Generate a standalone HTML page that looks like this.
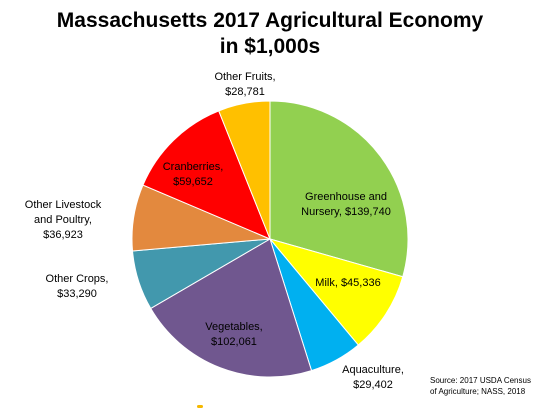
<!DOCTYPE html>
<html><head><meta charset="utf-8"><style>
html,body{margin:0;padding:0;background:#fff;}
svg{display:block;font-family:"Liberation Sans",sans-serif;}
</style></head><body>
<svg id="chart" width="554" height="415" viewBox="0 0 554 415">
<text x="270" y="27" text-anchor="middle" font-size="21" font-weight="bold" fill="#000">Massachusetts 2017 Agricultural Economy</text>
<text x="270" y="53" text-anchor="middle" font-size="21" font-weight="bold" fill="#000">in $1,000s</text>
<g id="slices"></g>
<g id="labels" font-size="11" fill="#000"></g>
<text x="430" y="383" font-size="8" fill="#000">Source:  2017 USDA Census</text>
<text x="430" y="394" font-size="8" fill="#000">of Agriculture;  NASS, 2018</text>
<rect x="197" y="405" width="6" height="3" rx="1.5" fill="#f5b800"/>
</svg>
<script>
const categories = ["Greenhouse and Nursery","Milk","Aquaculture","Vegetables","Other Crops","Other Livestock and Poultry","Cranberries","Other Fruits"];
const values = [139740,45336,29402,102061,33290,36923,59652,28781];
const valueLabels = ["$139,740","$45,336","$29,402","$102,061","$33,290","$36,923","$59,652","$28,781"];
const colors = ["#92d050","#ffff00","#00b0f0","#70578f","#4298ad","#e3893e","#ff0000","#ffc000"];
const labelLines = [
  ["Greenhouse and","Nursery,  $139,740"],
  ["Milk,  $45,336"],
  ["Aquaculture,","$29,402"],
  ["Vegetables,","$102,061"],
  ["Other Crops,","$33,290"],
  ["Other Livestock","and Poultry,","$36,923"],
  ["Cranberries,","$59,652"],
  ["Other Fruits,","$28,781"]
];
const labelPos = [[346,200],[348,286],[373,373],[234,330],[77,282],[63,208],[193,170],[245,80]];
const cx=270, cy=239, r=138;
const NS="http://www.w3.org/2000/svg";
const total=values.reduce((a,b)=>a+b,0);
function angleToXY(a){return [cx+r*Math.sin(a), cy-r*Math.cos(a)];}
let acc=0;
const gS=document.getElementById('slices'), gL=document.getElementById('labels');
values.forEach((v,i)=>{
  const a0=acc/total*2*Math.PI; acc+=v; const a1=acc/total*2*Math.PI;
  const [x0,y0]=angleToXY(a0),[x1,y1]=angleToXY(a1);
  const p=document.createElementNS(NS,'path');
  p.setAttribute('d',`M${cx},${cy} L${x0},${y0} A${r},${r} 0 ${a1-a0>Math.PI?1:0} 1 ${x1},${y1} Z`);
  p.setAttribute('fill',colors[i]);
  p.setAttribute('stroke','#fff');
  p.setAttribute('stroke-width','1');
  
  
  gS.appendChild(p);
  const t=document.createElementNS(NS,'text');
  t.setAttribute('text-anchor','middle');
  
  
  const lines=labelLines[i];
  lines.forEach((ln,j)=>{
    const s=document.createElementNS(NS,'tspan');
    s.setAttribute('x',labelPos[i][0]);
    s.setAttribute('y',labelPos[i][1]+j*15);
    s.textContent=ln;
    t.appendChild(s);
  });
  gL.appendChild(t);
});
</script>
</body></html>
